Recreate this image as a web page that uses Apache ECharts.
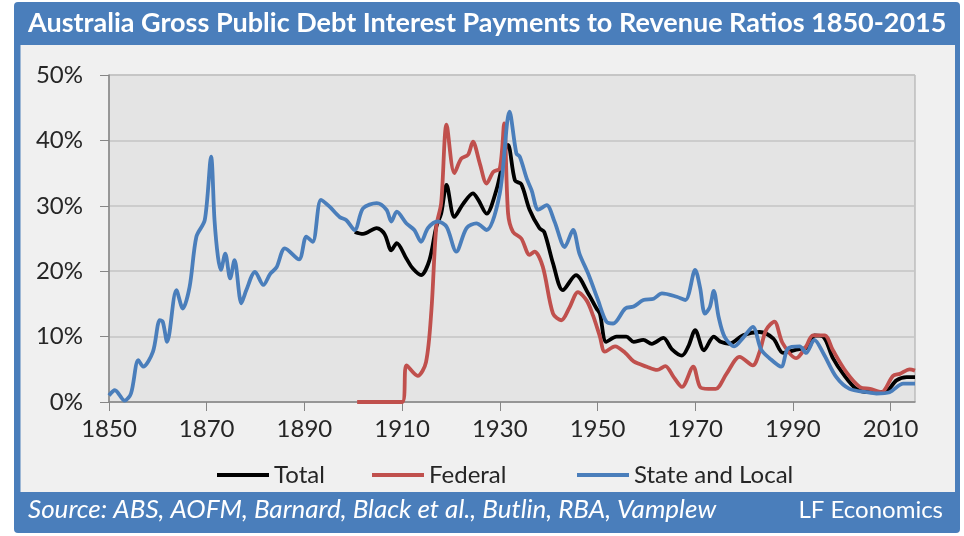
<!DOCTYPE html>
<html lang="en">
<head>
  <meta charset="UTF-8">
  <title>Australia debt interest ratios</title>
  <style>
    html, body { margin: 0; padding: 0; background: #fff; }
    #chart { width: 964px; height: 536px; }
  </style>
</head>
<body>
  <div id="chart"></div>
  <script src="https://cdn.jsdelivr.net/npm/echarts@6/dist/echarts.min.js"></script>
  <script>
    // values (percent of revenue)
    var stateYears = [1850, 1851.2, 1853.2, 1854.5, 1856, 1857, 1859, 1860.4, 1861, 1861.9, 1863.8, 1865.1, 1866.5, 1867.9, 1869.6, 1870.9, 1871.6, 1872.3, 1872.9, 1873.8, 1874.8, 1875.7, 1877.1, 1878.1, 1879.9, 1881.6, 1883, 1884.3, 1886, 1888.9, 1890.4, 1891.7, 1893.4, 1895.1, 1897.2, 1898.6, 1900.3, 1902, 1904.8, 1906.8, 1907.8, 1908.9, 1910.9, 1912.5, 1913.9, 1915.3, 1917.3, 1919.1, 1921.1, 1923.2, 1925.2, 1927.3, 1930, 1932, 1933.4, 1934.1, 1935.5, 1936.5, 1937.9, 1939.6, 1941.2, 1943.3, 1945, 1946.3, 1948.1, 1950.1, 1951.8, 1953.2, 1955.7, 1957.4, 1959.4, 1961.5, 1963.2, 1966.2, 1968, 1970, 1971, 1972, 1973, 1973.8, 1974.8, 1976, 1978, 1979.8, 1981.8, 1983.5, 1985.2, 1987.6, 1989, 1991.4, 1992.7, 1994.4, 1996.2, 1998.9, 2001.6, 2005.1, 2007.1, 2009.8, 2012.6, 2015];
    var stateVals = [1.0, 1.8, 0.2, 1.3, 6.4, 5.4, 7.7, 12.5, 12.3, 9.2, 17.1, 14.3, 17.6, 25.3, 27.8, 37.5, 27.8, 22.2, 20.2, 22.7, 18.9, 21.7, 15.1, 17.1, 19.9, 17.9, 19.6, 20.6, 23.5, 21.8, 25.3, 24.5, 30.9, 29.9, 28.3, 27.8, 26.3, 29.6, 30.4, 29.4, 27.6, 29.1, 27.3, 26.3, 24.5, 26.6, 27.6, 26.8, 23.0, 26.6, 27.3, 26.3, 31.9, 44.4, 38.0, 37.5, 34.2, 32.4, 29.4, 30.1, 27.6, 23.7, 26.3, 22.7, 19.6, 15.6, 12.3, 12.0, 14.3, 14.6, 15.6, 15.8, 16.6, 16.1, 15.6, 20.2, 17.5, 13.5, 14.5, 17.0, 13.0, 10.0, 8.5, 9.8, 11.5, 8.0, 6.7, 5.4, 8.2, 8.5, 7.5, 9.5, 7.5, 3.8, 2.0, 1.5, 1.3, 1.5, 2.8, 2.8];

    var totalYears = [1900.3, 1902, 1904.8, 1906.4, 1907.8, 1908.9, 1910.9, 1912.2, 1913.9, 1915.6, 1917, 1918, 1919.1, 1920.7, 1922.5, 1924.5, 1925.6, 1927.3, 1929.3, 1931.7, 1933.1, 1934.4, 1936.1, 1938.1, 1939.1, 1940.9, 1942.9, 1945.6, 1948.1, 1949.8, 1950.5, 1951.8, 1953.9, 1955.9, 1957.4, 1959.4, 1961.1, 1963.5, 1965.2, 1967.3, 1968.6, 1970, 1971.8, 1973.8, 1975.2, 1977, 1979.8, 1983.2, 1986, 1988, 1990.7, 1993.4, 1994.4, 1996.2, 1998.2, 2000.3, 2003, 2005.8, 2008.8, 2011.2, 2013.3, 2015];
    var totalVals = [26.0, 25.7, 26.6, 25.7, 23.2, 24.3, 21.9, 20.4, 19.4, 21.7, 26.8, 28.8, 33.2, 28.3, 30.3, 31.9, 30.9, 28.8, 32.4, 39.3, 33.9, 33.3, 29.4, 26.6, 26.0, 21.2, 17.1, 19.4, 16.6, 14.3, 13.5, 9.2, 10.0, 10.0, 9.2, 9.5, 8.9, 9.8, 8.1, 7.1, 8.5, 11.0, 7.9, 10.0, 9.2, 8.9, 10.2, 10.7, 9.7, 7.5, 8.0, 8.5, 10.2, 10.0, 6.7, 4.3, 2.0, 1.5, 1.5, 3.3, 3.8, 3.8];

    var fedYears = [1900.8, 1910, 1910.9, 1913.2, 1914.9, 1916, 1917, 1918, 1919.1, 1920.7, 1922.1, 1923.5, 1924.5, 1925.9, 1927.3, 1928.7, 1930, 1930.9, 1931.7, 1932.7, 1934.4, 1936.1, 1937.1, 1938.8, 1940.9, 1942.6, 1944.3, 1946, 1947.8, 1949.1, 1950.5, 1951.5, 1953.6, 1955.7, 1957.4, 1960.1, 1962.2, 1963.9, 1965.6, 1967.3, 1969.6, 1971, 1972.7, 1974.2, 1976.4, 1979.1, 1981.8, 1983.2, 1984.5, 1986.2, 1987.9, 1990.7, 1992.7, 1994.1, 1996.5, 1998.2, 2000.9, 2003.7, 2005.8, 2008.1, 2010.5, 2011.9, 2013.9, 2015];
    var fedVals = [0, 0, 5.6, 4.0, 6.1, 14.0, 26.8, 30.4, 42.4, 35.0, 37.2, 37.8, 39.8, 36.5, 33.4, 35.2, 35.7, 42.6, 28.8, 26.0, 25.0, 22.5, 23.0, 20.7, 13.5, 12.5, 14.5, 16.8, 15.5, 13.2, 10.0, 7.7, 8.5, 7.5, 6.2, 5.4, 4.9, 5.5, 3.8, 2.3, 5.4, 2.3, 2.0, 2.0, 4.3, 6.9, 5.6, 7.7, 11.0, 12.3, 9.0, 6.7, 8.5, 10.2, 10.2, 7.9, 4.6, 2.3, 2.0, 1.5, 4.0, 4.3, 5.0, 4.8];

    var xTickYears = [1850, 1870, 1890, 1910, 1930, 1950, 1970, 1990, 2010];
    var seriesNames = ['Total', 'Federal', 'State and Local'];
    var titleText = 'Australia Gross Public Debt Interest Payments to Revenue Ratios 1850-2015';
    var sourceText = 'Source: ABS, AOFM, Barnard, Black et al., Butlin, RBA, Vamplew';
    var creditText = 'LF Economics';

    function pairs(xs, ys) {
      return xs.map(function (x, i) { return [x, ys[i]]; });
    }

    var font = 'Lato, "Open Sans", sans-serif';
    var colors = ['#000000', '#c0504d', '#4a7ebb'];
    var lineData = [pairs(totalYears, totalVals), pairs(fedYears, fedVals), pairs(stateYears, stateVals)];
    // one legend per item, placed where Excel put them
    var legendLefts = [212, 367, 572];

    var series = seriesNames.map(function (name, i) {
      return {
        name: name,
        type: 'line',
        data: lineData[i],
        showSymbol: false,
        smooth: 0.3,
        lineStyle: { width: 3.8, color: colors[i] },
        itemStyle: { color: colors[i] },
        z: 2 + i
      };
    });

    var legends = seriesNames.map(function (name, i) {
      return {
        left: legendLefts[i],
        top: 458,
        icon: 'rect',
        itemWidth: 52,
        itemHeight: 4,
        textStyle: { color: '#262626', fontFamily: font, fontSize: 24 },
        data: [name]
      };
    });

    var option = {
      backgroundColor: '#ffffff',
      animation: false,
      color: colors,
      title: {
        text: titleText,
        left: 23,
        top: 5,
        textStyle: { color: '#ffffff', fontFamily: font, fontSize: 27, fontWeight: 'bold' }
      },
      graphic: [
        { type: 'rect', z: -10, shape: { x: 14, y: 2, width: 946, height: 531, r: 4 }, style: { fill: '#4a7ebb' } },
        { type: 'rect', z: -9, shape: { x: 20.5, y: 45, width: 934.5, height: 447 }, style: { fill: '#f0f0f0' } },
        { type: 'text', left: 28, top: 497, style: { text: sourceText, fill: '#ffffff', font: 'italic 26px ' + font } },
        { type: 'text', right: 21, top: 498, style: { text: creditText, fill: '#ffffff', font: '24px ' + font } }
      ],
      legend: legends,
      grid: {
        left: 109,
        right: 49,
        top: 75,
        bottom: 134,
        show: true,
        backgroundColor: '#e4e4e4',
        borderColor: '#a6a6a6',
        borderWidth: 1
      },
      xAxis: {
        type: 'value',
        min: 1850,
        max: 2015,
        interval: 20,
        axisLine: { show: true, lineStyle: { color: '#868686', width: 1.5 } },
        axisTick: { show: true, length: 9, lineStyle: { color: '#868686' }, customValues: xTickYears },
        axisLabel: {
          color: '#262626', fontFamily: font, fontSize: 24, margin: 15, customValues: xTickYears,
          formatter: function (v) { return String(v); }
        },
        splitLine: { show: false }
      },
      yAxis: {
        type: 'value',
        min: 0,
        max: 50,
        interval: 10,
        axisLine: { show: true, lineStyle: { color: '#868686', width: 1.5 } },
        axisTick: { show: true, length: 9, lineStyle: { color: '#868686' } },
        axisLabel: { color: '#262626', fontFamily: font, fontSize: 24, margin: 26, formatter: '{value}%' },
        splitLine: { lineStyle: { color: '#c4c4c4', width: 1.5 } }
      },
      series: series
    };

    var chart = echarts.init(document.getElementById('chart'));
    chart.setOption(option);
  </script>
</body>
</html>
